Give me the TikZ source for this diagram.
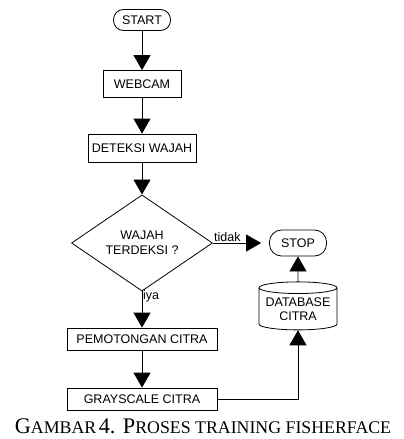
\documentclass[tikz,border=0pt]{standalone}
\usepackage{fontspec}
\setmainfont{Liberation Sans}
\newfontfamily\captionFont{Liberation Serif}
\usetikzlibrary{shapes.geometric,arrows.meta}
\tikzstyle{flowchart} = [x = 1pt, y = -1pt, every node/.style={font=\fontsize{12.5}{14.5}\selectfont}]
\tikzstyle{boxLine} = [draw, line width = .8pt, fill = white, inner sep = 0pt]
\tikzstyle{terminalStyle} = [boxLine, rounded corners = 10pt]
\tikzstyle{processStyle} = [boxLine]
\tikzstyle{decisionStyle} = [boxLine, diamond, align = center]
\tikzstyle{storageStyle} = [boxLine, cylinder, shape border rotate = 90, aspect = .18, align = center]
\tikzstyle{flowArrow} = [line width = .8pt, -{Triangle[width = 17pt, length = 15pt]}]
\tikzstyle{flowLabel} = [inner sep = 1pt]
\newcommand{\bigSc}[1]{{\fontsize{22.3}{24}\selectfont #1}}
\newcommand{\smallSc}[1]{{\fontsize{17.8}{24}\selectfont #1}}
\begin{document}
\begin{tikzpicture}[flowchart]
  \useasboundingbox (0,0) rectangle (404,439);
  % main column
  \node [terminalStyle, minimum width = 57pt, minimum height = 21pt] (start) at (142,20) {START};
  \node [processStyle, minimum width = 78pt, minimum height = 27pt] (webcam) at (142,84) {WEBCAM};
  \node [processStyle, minimum width = 108pt, minimum height = 28pt] (deteksi) at (142,148) {DETEKSI WAJAH};
  \node [decisionStyle, minimum width = 141pt, minimum height = 96pt] (cek) at (142,243) {WAJAH\\TERDEKSI ?};
  \node [processStyle, minimum width = 150pt, minimum height = 22pt] (potong) at (142,339) {PEMOTONGAN CITRA};
  \node [processStyle, minimum width = 150pt, minimum height = 22pt] (gray) at (142,399) {GRAYSCALE CITRA};
  % right column
  \node [terminalStyle, minimum width = 57pt, minimum height = 26pt, rounded corners = 12pt] (stop) at (298,243) {STOP};
  \node [storageStyle, minimum width = 78pt, minimum height = 48pt] (db) at (298,309) {DATABASE\\CITRA};

  \draw [flowArrow] (start) -- (webcam);
  \draw [flowArrow] (webcam) -- (deteksi);
  \draw [flowArrow] (deteksi) -- (cek);
  \draw [flowArrow] (cek.south) -- (potong.north);
  \draw [flowArrow] (potong) -- (gray);
  \draw [flowArrow] (gray.east) -| (db.south);
  \draw [flowArrow] (db.north) -- (stop.south);
  \draw [flowArrow, shorten >= 8pt] (cek.east) -- (stop.west);
  \node [flowLabel, anchor = south west] (tidak) at (cek.east) {tidak};
  \node [flowLabel, anchor = north west] (iya) at ([yshift = 2pt]cek.south) {iya};

  % caption
  \node [font = \captionFont] (caption) at (203,426) {\bigSc{G}\smallSc{AMBAR} \bigSc{4. P}\smallSc{ROSES TRAINING FISHERFACE}};
\end{tikzpicture}
\end{document}
